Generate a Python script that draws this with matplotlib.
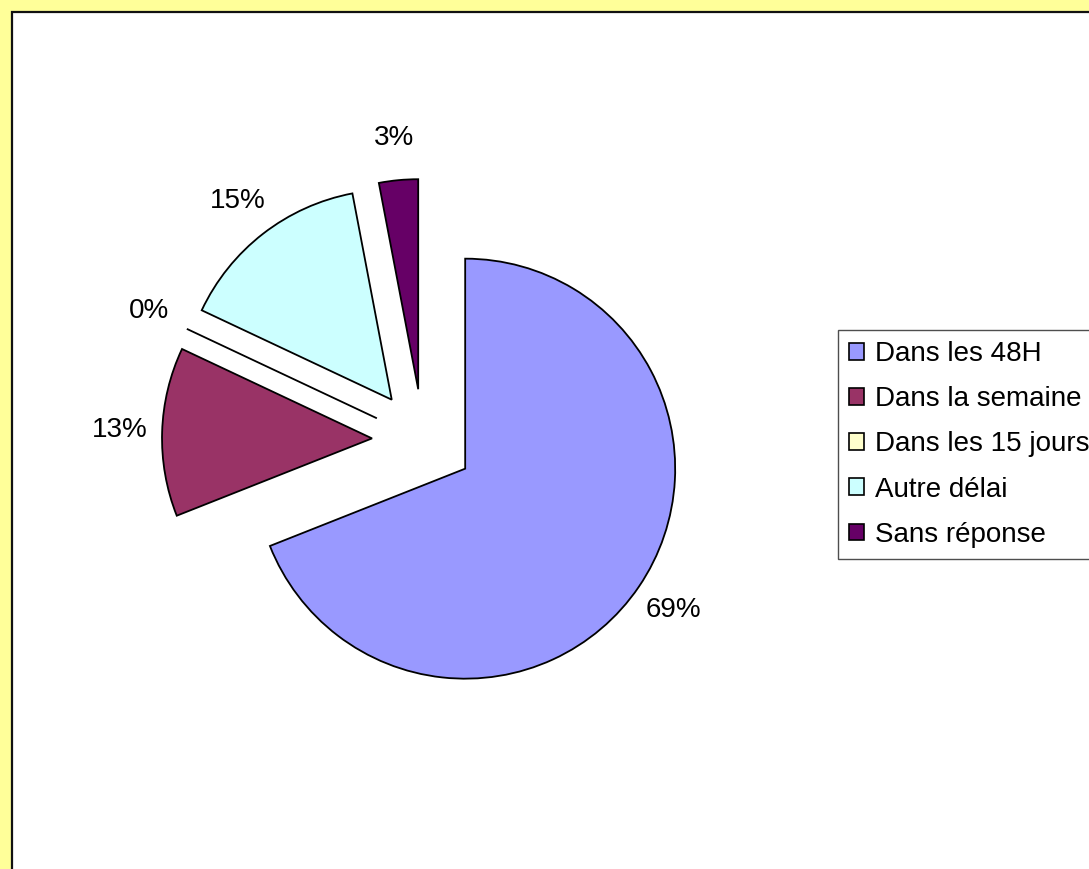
import matplotlib.pyplot as plt
from matplotlib.patches import Rectangle, Patch

plt.rcParams['font.family'] = ['Liberation Sans', 'DejaVu Sans']

categories = ['Dans les 48H', 'Dans la semaine', 'Dans les 15 jours', 'Autre délai', 'Sans réponse']
values = [69, 13, 0, 15, 3]
colors = ['#9999FF', '#993366', '#FFFFCC', '#CCFFFF', '#660066']

W, H = 1089, 869
fig = plt.figure(figsize=(W / 100, H / 100), dpi=100, facecolor='#FFFF99')
ax = fig.add_axes([0, 0, 1, 1])

# white plot area with dark border
ax.add_patch(Rectangle((12, -20), W + 40, H - 12 + 20, facecolor='white',
                       edgecolor='#111111', linewidth=1.6, zorder=0))

# explode is in data units (pixels here), radius 210
wedges, texts = ax.pie(values, colors=colors, startangle=90, counterclock=False,
                       center=(423, H - 440), radius=210, explode=[51] * len(values),
                       labels=[f'{v}%' for v in values], labeldistance=1.2,
                       wedgeprops=dict(edgecolor='black', linewidth=1.3),
                       textprops=dict(fontsize=20, color='black'), frame=True)
ax.set_xlim(0, W)
ax.set_ylim(0, H)
ax.set_aspect('auto')
ax.axis('off')
for t in texts:
    t.set_ha('center')
    t.set_va('center')

handles = [Patch(facecolor=c, edgecolor='black', linewidth=1.2) for c in colors]
leg = fig.legend(handles, categories, loc='upper left',
                 bbox_to_anchor=(838 / W, 1 - 330 / H), fontsize=20,
                 frameon=True, fancybox=False, shadow=False,
                 handlelength=0.55, handleheight=0.55, handletextpad=0.38,
                 labelspacing=0.69, borderpad=0.4, borderaxespad=0)
leg.get_frame().set_edgecolor('#222222')
leg.get_frame().set_linewidth(1.0)

fig.savefig('out.png', dpi=100, facecolor=fig.get_facecolor())
